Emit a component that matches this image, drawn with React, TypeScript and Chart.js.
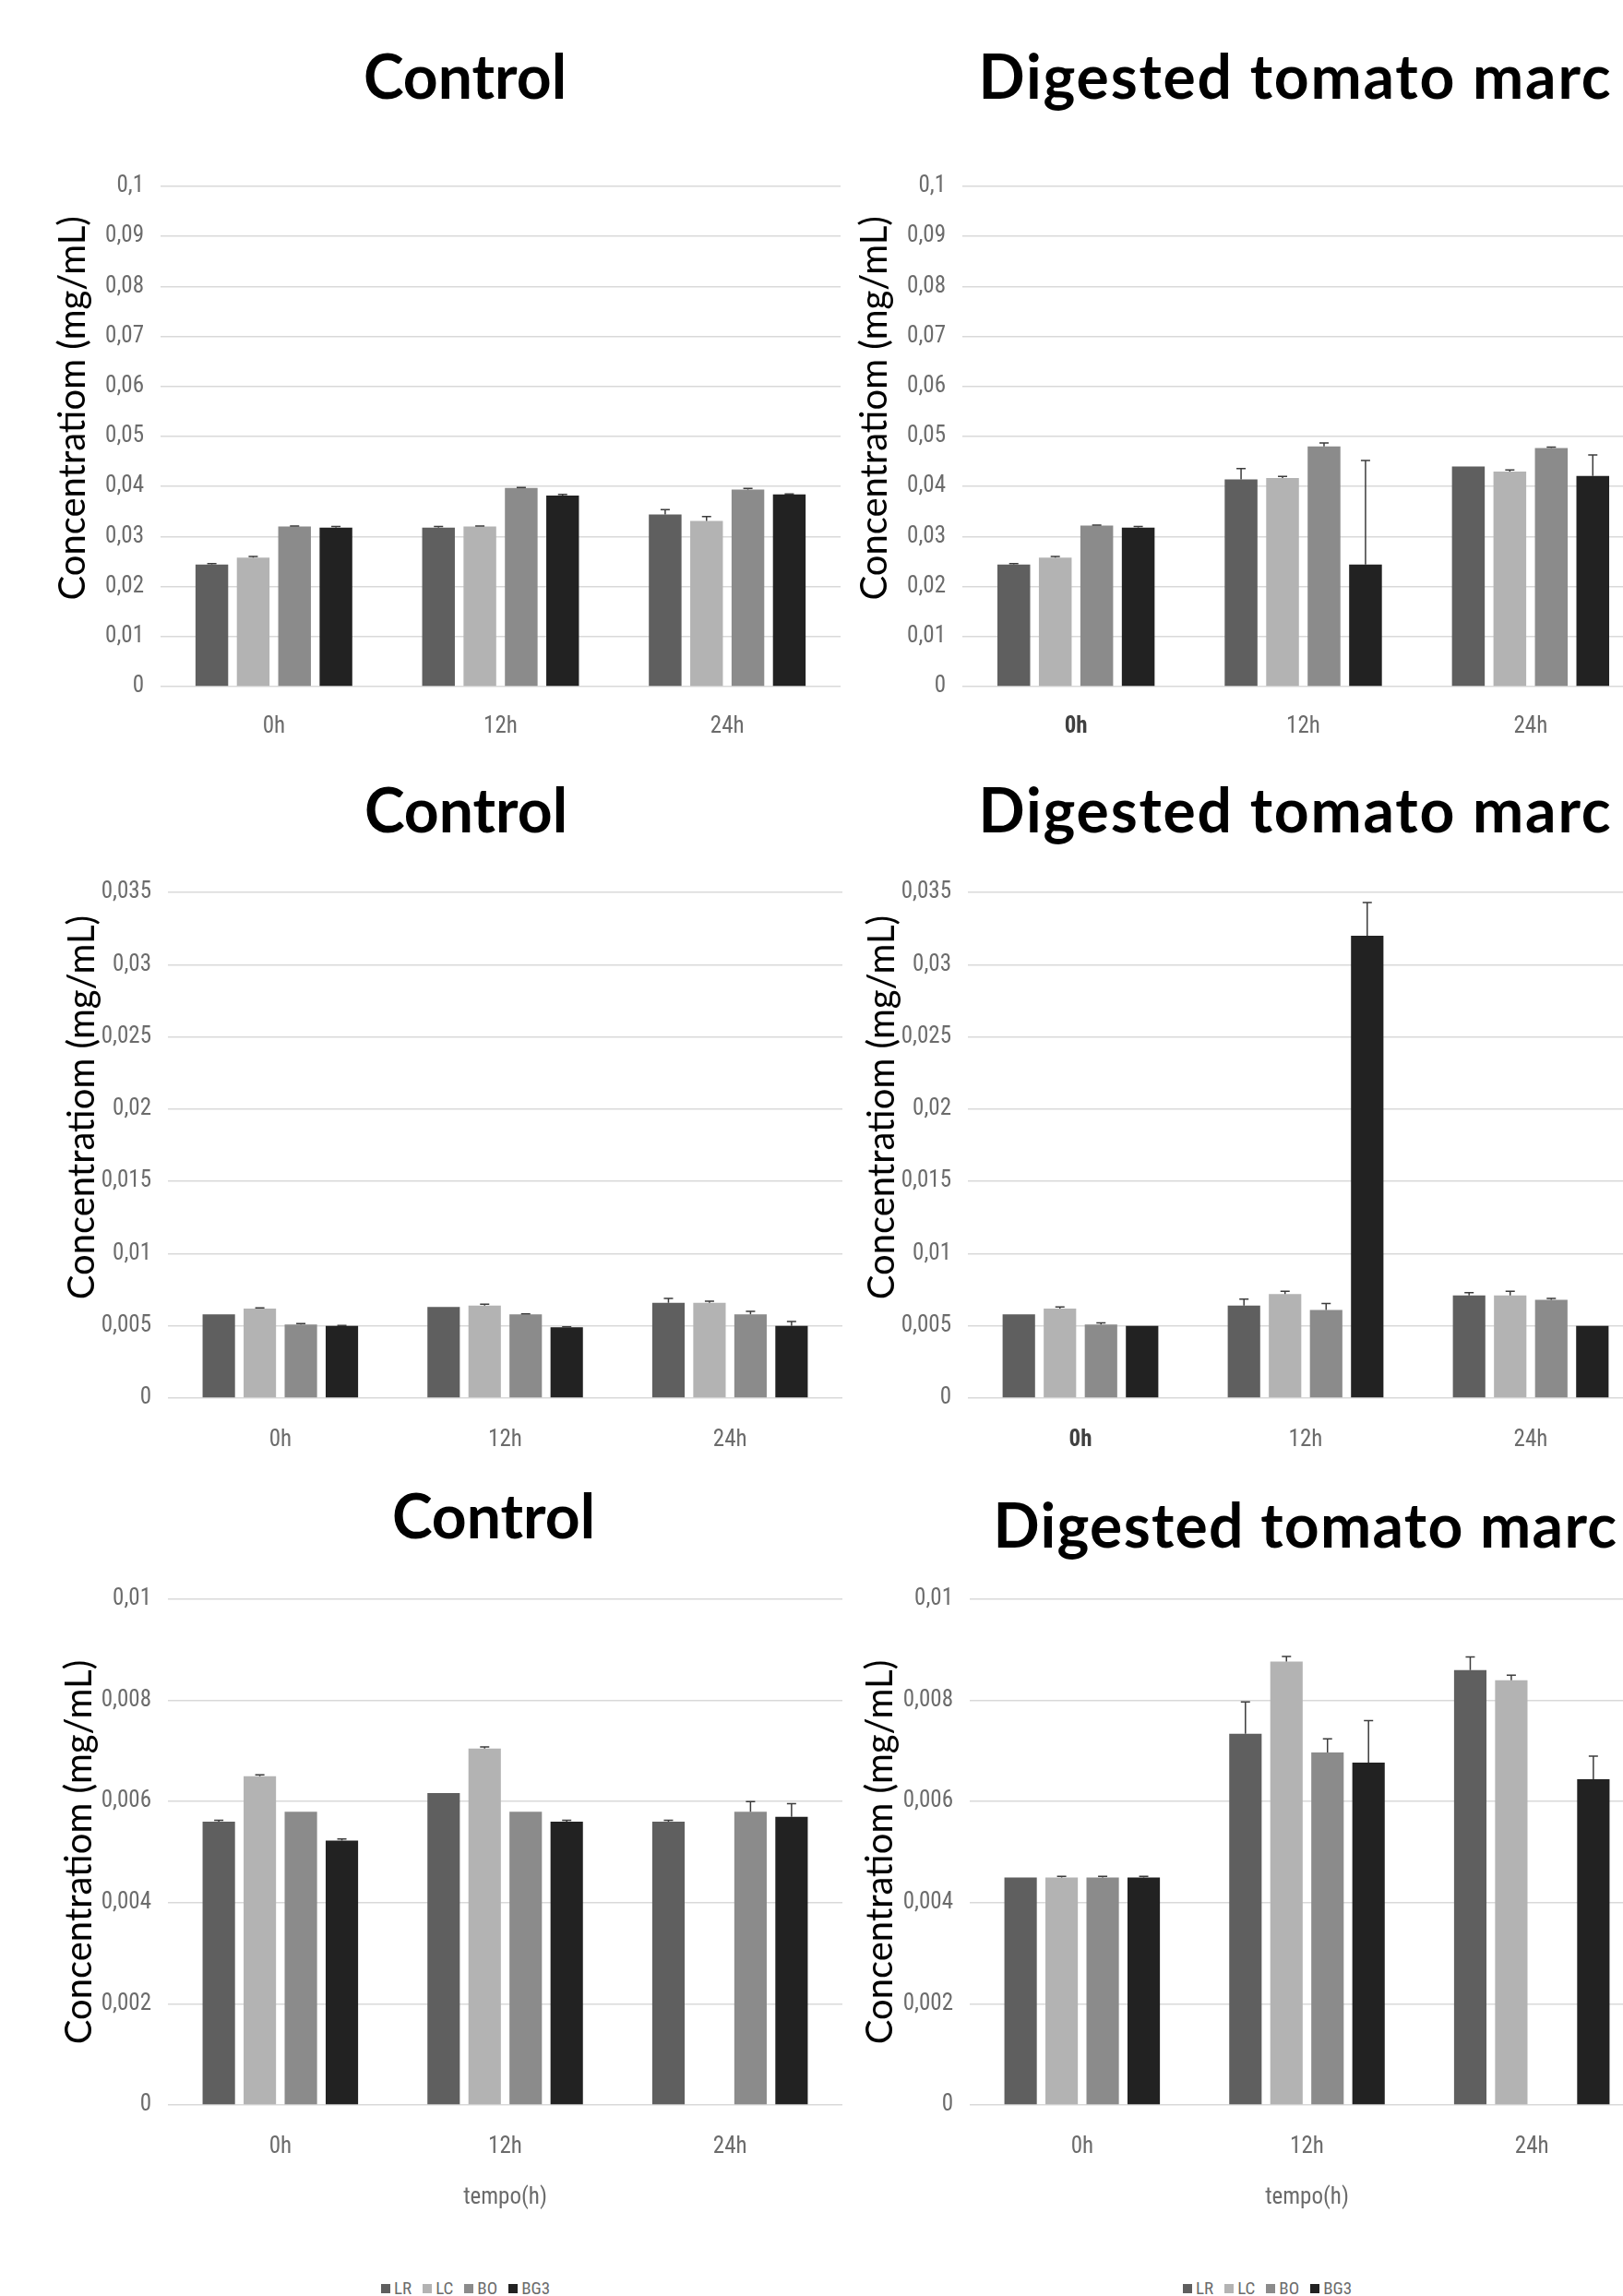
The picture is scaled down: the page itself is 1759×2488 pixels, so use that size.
import React, { useEffect, useRef } from 'react';
import { Chart, registerables } from 'chart.js';

Chart.register(...registerables);

// ---------- shared categories / series ----------
const categories = ['0h', '12h', '24h'];
const seriesNames = ['LR', 'LC', 'BO', 'BG3'];
const seriesColors = ['#5f5f5f', '#b3b3b3', '#8b8b8b', '#222222'];

// ---------- tick values / labels ----------
const yTicksRow1 = [0, 0.01, 0.02, 0.03, 0.04, 0.05, 0.06, 0.07, 0.08, 0.09, 0.1];
const yLabelsRow1 = ['0', '0,01', '0,02', '0,03', '0,04', '0,05', '0,06', '0,07', '0,08', '0,09', '0,1'];
const yTicksRow2 = [0, 0.005, 0.01, 0.015, 0.02, 0.025, 0.03, 0.035];
const yLabelsRow2 = ['0', '0,005', '0,01', '0,015', '0,02', '0,025', '0,03', '0,035'];
const yTicksRow3 = [0, 0.002, 0.004, 0.006, 0.008, 0.01];
const yLabelsRow3 = ['0', '0,002', '0,004', '0,006', '0,008', '0,01'];

// ---------- Row 1 : Control ----------
const r1cLR = [0.0244, 0.0318, 0.0344];
const r1cLC = [0.0258, 0.032, 0.0331];
const r1cBO = [0.032, 0.0397, 0.0394];
const r1cBG3 = [0.0318, 0.0382, 0.0384];
const r1cErrLR = [0.0002, 0.0002, 0.001];
const r1cErrLC = [0.0002, 0.0001, 0.0009];
const r1cErrBO = [0.0001, 0.0001, 0.0002];
const r1cErrBG3 = [0.0002, 0.0002, 0.0001];

// ---------- Row 1 : Digested tomato marc ----------
const r1dLR = [0.0244, 0.0414, 0.044];
const r1dLC = [0.0258, 0.0417, 0.043];
const r1dBO = [0.0322, 0.048, 0.0477];
const r1dBG3 = [0.0318, 0.0244, 0.0421];
const r1dErrLR = [0.0002, 0.0022, 0];
const r1dErrLC = [0.0002, 0.0003, 0.0003];
const r1dErrBO = [0.0001, 0.0007, 0.0002];
const r1dErrBG3 = [0.0002, 0.0208, 0.0042];

// ---------- Row 2 : Control ----------
const r2cLR = [0.0058, 0.0063, 0.0066];
const r2cLC = [0.0062, 0.0064, 0.0066];
const r2cBO = [0.0051, 0.0058, 0.0058];
const r2cBG3 = [0.005, 0.0049, 0.005];
const r2cErrLR = [0, 0, 0.0003];
const r2cErrLC = [0.00005, 0.0001, 0.0001];
const r2cErrBO = [0.00005, 0.00003, 0.0002];
const r2cErrBG3 = [0.00003, 0.00003, 0.0003];

// ---------- Row 2 : Digested tomato marc ----------
const r2dLR = [0.0058, 0.0064, 0.0071];
const r2dLC = [0.0062, 0.0072, 0.0071];
const r2dBO = [0.0051, 0.0061, 0.0068];
const r2dBG3 = [0.005, 0.032, 0.005];
const r2dErrLR = [0, 0.00045, 0.0002];
const r2dErrLC = [0.0001, 0.0002, 0.0003];
const r2dErrBO = [0.0001, 0.00045, 0.0001];
const r2dErrBG3 = [0, 0.0023, 0];

// ---------- Row 3 : Control ----------
const r3cLR = [0.0056, 0.00617, 0.0056];
const r3cLC = [0.0065, 0.00705, null];
const r3cBO = [0.0058, 0.0058, 0.0058];
const r3cBG3 = [0.00523, 0.0056, 0.0057];
const r3cErrLR = [0.00003, 0, 0.00003];
const r3cErrLC = [0.00003, 0.00003, 0];
const r3cErrBO = [0, 0, 0.0002];
const r3cErrBG3 = [0.00003, 0.00003, 0.00026];

// ---------- Row 3 : Digested tomato marc ----------
const r3dLR = [0.0045, 0.00734, 0.0086];
const r3dLC = [0.0045, 0.00877, 0.0084];
const r3dBO = [0.0045, 0.00697, null];
const r3dBG3 = [0.0045, 0.00677, 0.00644];
const r3dErrLR = [0, 0.00063, 0.00026];
const r3dErrLC = [0.00002, 0.0001, 0.0001];
const r3dErrBO = [0.00002, 0.00027, 0];
const r3dErrBG3 = [0.00002, 0.00083, 0.00046];

const yTitleText = 'Concentratiom (mg/mL)';
const xTitleText = 'tempo(h)';
const titleControl = 'Control';
const titleDigested = 'Digested tomato marc';

function fontAvailable(name: string): boolean {
  try {
    const c = document.createElement('canvas').getContext('2d');
    if (!c) return false;
    const sample = '0,035 abcmwi 12h';
    c.font = '40px monospace';
    const a = c.measureText(sample).width;
    c.font = `40px '${name}', monospace`;
    const b = c.measureText(sample).width;
    return Math.abs(a - b) > 0.5;
  } catch (e) {
    return false;
  }
}

const HAS_ROBOTO_COND = fontAvailable('Roboto Condensed');
const NARROW = HAS_ROBOTO_COND
  ? "'Roboto Condensed', 'DejaVu Sans Condensed', sans-serif"
  : "'DejaVu Sans Condensed', sans-serif";
const TICK_SIZE = HAS_ROBOTO_COND ? 25 : 22;
const TICK_COLOR = '#6b6b6b';

type PanelProps = {
  left: number;
  top: number;
  width: number;
  height: number;
  plot: { l: number; t: number; r: number; b: number };
  values: (number | null)[][];
  errors: number[][];
  yMax: number;
  tickVals: number[];
  tickLabels: string[];
  yTitle: string;
  yTitlePad: number;
  xTickPad: number;
  xTitle?: string;
  xTitlePad?: number;
  boldFirst?: boolean;
};

function Panel(p: PanelProps) {
  const ref = useRef<HTMLCanvasElement>(null);
  useEffect(() => {
    const padTop = p.plot.t - p.top;
    const padRight = p.left + p.width - p.plot.r;
    const yW = p.plot.l - p.left;
    const xH = p.top + p.height - p.plot.b;
    const lh = TICK_SIZE * 1.2;

    const errPlugin = {
      id: 'errBars',
      afterDatasetsDraw(chart: any) {
        const ctx = chart.ctx;
        const ys = chart.scales.y;
        ctx.save();
        ctx.strokeStyle = '#3c3c3c';
        ctx.lineWidth = 1.5;
        chart.data.datasets.forEach((ds: any, i: number) => {
          const meta = chart.getDatasetMeta(i);
          meta.data.forEach((el: any, j: number) => {
            const v = ds.data[j];
            const e = p.errors[i][j];
            if (v == null || !e) return;
            const x = el.x;
            const y0 = el.y;
            const y1 = ys.getPixelForValue(v + e);
            ctx.beginPath();
            ctx.moveTo(x, y0);
            ctx.lineTo(x, y1);
            ctx.moveTo(x - 5, y1);
            ctx.lineTo(x + 5, y1);
            ctx.stroke();
          });
        });
        ctx.restore();
      },
    };

    const chart = new Chart(ref.current as HTMLCanvasElement, {
      type: 'bar',
      data: {
        labels: categories,
        datasets: seriesNames.map((n, i) => ({
          label: n,
          data: p.values[i],
          backgroundColor: seriesColors[i],
          borderWidth: 0,
          categoryPercentage: 0.73,
          barPercentage: 0.79,
        })),
      },
      options: {
        responsive: false,
        animation: false,
        devicePixelRatio: 1,
        layout: { padding: { top: padTop, right: padRight, bottom: 0, left: 0 } },
        plugins: {
          legend: { display: false },
          tooltip: { enabled: false },
          title: { display: false },
        },
        scales: {
          x: {
            grid: { display: false, drawTicks: false },
            border: { display: false },
            ticks: {
              font: (c: any) => ({
                family: NARROW,
                size: TICK_SIZE,
                weight: p.boldFirst && c.index === 0 ? 'bold' : 'normal',
              }),
              color: (c: any) => (p.boldFirst && c.index === 0 ? '#404040' : TICK_COLOR),
              padding: p.xTickPad - lh / 2,
              maxRotation: 0,
              autoSkip: false,
            },
            title: p.xTitle
              ? {
                  display: true,
                  text: p.xTitle,
                  font: { family: NARROW, size: TICK_SIZE },
                  color: TICK_COLOR,
                  padding: { top: 0, bottom: (p.xTitlePad || 0) - lh / 2 },
                }
              : { display: false },
            afterFit: (s: any) => {
              s.height = xH;
            },
          },
          y: {
            min: 0,
            max: p.yMax,
            grid: { color: '#d9d9d9', lineWidth: 1.5, drawTicks: false },
            border: { display: false },
            afterBuildTicks: (s: any) => {
              s.ticks = p.tickVals.map((v) => ({ value: v }));
            },
            ticks: {
              callback: (_v: any, i: number) => p.tickLabels[i],
              font: { family: NARROW, size: TICK_SIZE },
              color: TICK_COLOR,
              padding: 18,
            },
            title: {
              display: true,
              text: p.yTitle,
              font: { family: 'Lato', size: 40 },
              color: '#000000',
              padding: { top: p.yTitlePad, bottom: 0 },
            },
            afterFit: (s: any) => {
              s.width = yW;
            },
          },
        },
      } as any,
      plugins: [errPlugin],
    });
    return () => chart.destroy();
  }, []);
  return (
    <canvas
      ref={ref}
      width={p.width}
      height={p.height}
      style={{ position: 'absolute', left: p.left, top: p.top, width: p.width, height: p.height }}
    />
  );
}

function Title({ text, cx, baseline, spacing }: { text: string; cx: number; baseline: number; spacing?: number }) {
  return (
    <div
      style={{
        position: 'absolute',
        left: cx,
        top: baseline - 58.5,
        transform: 'translateX(-50%)',
        fontFamily: 'Lato',
        fontWeight: 700,
        fontSize: 66,
        lineHeight: '66px',
        letterSpacing: spacing ? `${spacing}px` : undefined,
        whiteSpace: 'nowrap',
        color: '#000',
        zIndex: 2,
      }}
    >
      {text}
    </div>
  );
}

function Legend({ left, top }: { left: number; top: number }) {
  return (
    <div
      style={{
        position: 'absolute',
        left,
        top,
        display: 'flex',
        alignItems: 'center',
        fontFamily: NARROW,
        fontSize: 19,
        lineHeight: '22px',
        color: TICK_COLOR,
        whiteSpace: 'nowrap',
      }}
    >
      {seriesNames.map((n, i) => (
        <span key={n} style={{ display: 'flex', alignItems: 'center', marginRight: 12 }}>
          <span
            style={{ display: 'inline-block', width: 10, height: 10, background: seriesColors[i], marginRight: 4 }}
          />
          {n}
        </span>
      ))}
    </div>
  );
}

const sp6 = '      ';
const sp8 = '        ';

export default function App() {
  return (
    <div
      style={{
        position: 'absolute',
        left: 0,
        top: 0,
        width: 1759,
        height: 2488,
        overflow: 'hidden',
        background: '#ffffff',
      }}
    >
      {/* Row 1 */}
      <Panel
        left={0}
        top={150}
        width={930}
        height={670}
        plot={{ l: 174, t: 202, r: 911, b: 744 }}
        values={[r1cLR, r1cLC, r1cBO, r1cBG3]}
        errors={[r1cErrLR, r1cErrLC, r1cErrBO, r1cErrBG3]}
        yMax={0.1}
        tickVals={yTicksRow1}
        tickLabels={yLabelsRow1}
        yTitle={sp6 + yTitleText}
        yTitlePad={55}
        xTickPad={44}
      />
      <Panel
        left={880}
        top={150}
        width={920}
        height={670}
        plot={{ l: 1043, t: 202, r: 1782, b: 744 }}
        values={[r1dLR, r1dLC, r1dBO, r1dBG3]}
        errors={[r1dErrLR, r1dErrLC, r1dErrBO, r1dErrBG3]}
        yMax={0.1}
        tickVals={yTicksRow1}
        tickLabels={yLabelsRow1}
        yTitle={sp6 + yTitleText}
        yTitlePad={44}
        xTickPad={44}
        boldFirst
      />
      {/* Row 2 */}
      <Panel
        left={0}
        top={920}
        width={930}
        height={680}
        plot={{ l: 182, t: 967, r: 913, b: 1515 }}
        values={[r2cLR, r2cLC, r2cBO, r2cBG3]}
        errors={[r2cErrLR, r2cErrLC, r2cErrBO, r2cErrBG3]}
        yMax={0.035}
        tickVals={yTicksRow2}
        tickLabels={yLabelsRow2}
        yTitle={sp8 + yTitleText}
        yTitlePad={65}
        xTickPad={46}
      />
      <Panel
        left={880}
        top={920}
        width={920}
        height={680}
        plot={{ l: 1049, t: 967, r: 1781, b: 1515 }}
        values={[r2dLR, r2dLC, r2dBO, r2dBG3]}
        errors={[r2dErrLR, r2dErrLC, r2dErrBO, r2dErrBG3]}
        yMax={0.035}
        tickVals={yTicksRow2}
        tickLabels={yLabelsRow2}
        yTitle={sp8 + yTitleText}
        yTitlePad={52}
        xTickPad={46}
        boldFirst
      />
      {/* Row 3 */}
      <Panel
        left={0}
        top={1690}
        width={930}
        height={730}
        plot={{ l: 182, t: 1733, r: 913, b: 2281 }}
        values={[r3cLR, r3cLC, r3cBO, r3cBG3]}
        errors={[r3cErrLR, r3cErrLC, r3cErrBO, r3cErrBG3]}
        yMax={0.01}
        tickVals={yTicksRow3}
        tickLabels={yLabelsRow3}
        yTitle={yTitleText}
        yTitlePad={62}
        xTickPad={46}
        xTitle={xTitleText}
        xTitlePad={38}
      />
      <Panel
        left={880}
        top={1690}
        width={920}
        height={730}
        plot={{ l: 1051, t: 1733, r: 1782, b: 2281 }}
        values={[r3dLR, r3dLC, r3dBO, r3dBG3]}
        errors={[r3dErrLR, r3dErrLC, r3dErrBO, r3dErrBG3]}
        yMax={0.01}
        tickVals={yTicksRow3}
        tickLabels={yLabelsRow3}
        yTitle={yTitleText}
        yTitlePad={50}
        xTickPad={46}
        xTitle={xTitleText}
        xTitlePad={38}
      />

      <Title text={titleControl} cx={504} baseline={107} />
      <Title text={titleDigested} cx={1404} baseline={107} spacing={1.8} />
      <Title text={titleControl} cx={505} baseline={902} />
      <Title text={titleDigested} cx={1404} baseline={902} spacing={1.8} />
      <Title text={titleControl} cx={535} baseline={1667} />
      <Title text={titleDigested} cx={1415} baseline={1677} spacing={1.3} />

      <Legend left={413} top={2469} />
      <Legend left={1282} top={2469} />
    </div>
  );
}
